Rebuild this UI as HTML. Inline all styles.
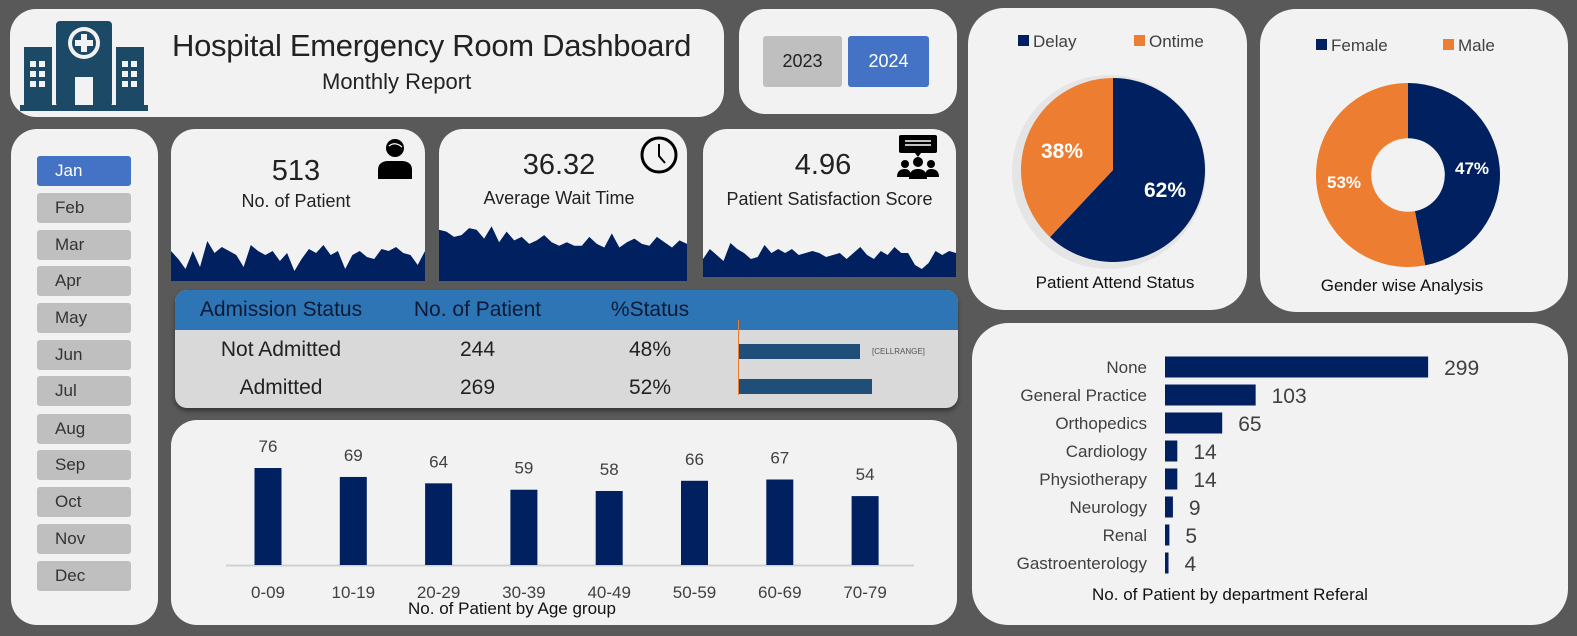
<!DOCTYPE html>
<html><head><meta charset="utf-8">
<style>
*{box-sizing:border-box;margin:0;padding:0}
body{width:1577px;height:636px;background:#595959;position:relative;overflow:hidden;font-family:"Liberation Sans Narrow","Liberation Sans",sans-serif;color:#222}
.panel{position:absolute;background:#f2f2f2;border-radius:26px}
.btn{position:absolute;left:37px;width:94px;height:30px;background:#bfbfbf;border-radius:3px;font-size:17px;line-height:30px;padding-left:18px;color:#333}
.t{position:absolute;white-space:nowrap}
</style></head><body>

<div class="panel" style="left:10px;top:9px;width:714px;height:108px">
  <svg style="position:absolute;left:10px;top:8px" width="128" height="96" viewBox="0 0 128 96">
    <g fill="#1c4966">
      <rect x="4" y="30" width="28" height="60"/><rect x="96" y="30" width="28" height="60"/>
      <rect x="36" y="4" width="56" height="86" rx="4"/><rect x="0" y="88" width="128" height="6"/>
    </g>
    <circle cx="64" cy="26" r="16" fill="#f2f2f2"/><circle cx="64" cy="26" r="12" fill="#1c4966"/>
    <rect x="61" y="17" width="6" height="18" fill="#f2f2f2"/><rect x="55" y="23" width="18" height="6" fill="#f2f2f2"/>
    <g fill="#f2f2f2">
      <rect x="10" y="44" width="6" height="6"/><rect x="19" y="44" width="6" height="6"/><rect x="10" y="54" width="6" height="6"/><rect x="19" y="54" width="6" height="6"/><rect x="10" y="64" width="6" height="6"/><rect x="19" y="64" width="6" height="6"/>
      <rect x="102" y="44" width="6" height="6"/><rect x="111" y="44" width="6" height="6"/><rect x="102" y="54" width="6" height="6"/><rect x="111" y="54" width="6" height="6"/><rect x="102" y="64" width="6" height="6"/><rect x="111" y="64" width="6" height="6"/>
      <rect x="55" y="60" width="18" height="28"/>
    </g>
  </svg>
  <div class="t" style="left:162px;top:19px;font-size:31px;font-family:'Liberation Sans',sans-serif;letter-spacing:-0.3px">Hospital Emergency Room Dashboard</div>
  <div class="t" style="left:312px;top:60px;font-size:22px;font-family:'Liberation Sans',sans-serif">Monthly Report</div>
</div>

<div class="panel" style="left:739px;top:9px;width:218px;height:105px">
  <div class="t" style="left:24px;top:27px;width:79px;height:51px;background:#bfbfbf;border-radius:3px;text-align:center;line-height:51px;font-size:18px">2023</div>
  <div class="t" style="left:109px;top:27px;width:81px;height:51px;background:#4472c4;border-radius:3px;text-align:center;line-height:51px;font-size:18px;color:#fff">2024</div>
</div>

<div class="panel" style="left:11px;top:129px;width:147px;height:496px"></div>
<div class="btn" style="top:156px;background:#4472c4;color:#fff">Jan</div>
<div class="btn" style="top:193px">Feb</div>
<div class="btn" style="top:230px">Mar</div>
<div class="btn" style="top:266px">Apr</div>
<div class="btn" style="top:303px">May</div>
<div class="btn" style="top:340px">Jun</div>
<div class="btn" style="top:376px">Jul</div>
<div class="btn" style="top:414px">Aug</div>
<div class="btn" style="top:450px">Sep</div>
<div class="btn" style="top:487px">Oct</div>
<div class="btn" style="top:524px">Nov</div>
<div class="btn" style="top:561px">Dec</div>

<div class="panel" style="left:171px;top:129px;width:254px;height:152px;overflow:hidden;border-radius:24px 24px 0 0">
  <div class="t" style="left:0;width:250px;text-align:center;top:26px;font-size:29px">513</div>
  <div class="t" style="left:0;width:250px;text-align:center;top:62px;font-size:18px;font-family:'Liberation Sans',sans-serif">No. of Patient</div>
  <svg style="position:absolute;left:204px;top:8px" width="40" height="42"><circle cx="20" cy="11" r="9" fill="#000"/><path d="M14 9 Q20 4 27 10" stroke="#fff" fill="none" stroke-width="1.2"/><path d="M3 42 V33 Q3 25 12 24 H28 Q37 25 37 33 V42Z" fill="#000"/></svg>
  <svg style="position:absolute;left:0;top:92px" width="254" height="60"><polygon id="spark1" fill="#002060"/></svg>
</div>
<div class="panel" style="left:439px;top:129px;width:248px;height:152px;overflow:hidden;border-radius:24px 24px 0 0">
  <div class="t" style="left:0;width:240px;text-align:center;top:20px;font-size:29px">36.32</div>
  <div class="t" style="left:0;width:240px;text-align:center;top:59px;font-size:18px;font-family:'Liberation Sans',sans-serif">Average Wait Time</div>
  <svg style="position:absolute;left:200px;top:6px" width="40" height="40"><circle cx="20" cy="20" r="17" fill="none" stroke="#000" stroke-width="3"/><path d="M20 9 V21 L26 28" stroke="#000" stroke-width="2" fill="none"/></svg>
  <svg style="position:absolute;left:0;top:92px" width="248" height="60"><polygon id="spark2" fill="#002060"/></svg>
</div>
<div class="panel" style="left:703px;top:129px;width:253px;height:148px;overflow:hidden;border-radius:24px 24px 0 0">
  <div class="t" style="left:0;width:240px;text-align:center;top:20px;font-size:29px">4.96</div>
  <div class="t" style="left:0;width:253px;text-align:center;top:60px;font-size:18px;font-family:'Liberation Sans',sans-serif">Patient Satisfaction Score</div>
  <svg style="position:absolute;left:190px;top:4px" width="50" height="50"><rect x="6" y="2" width="38" height="18" rx="2" fill="#000"/><path d="M12 8h26M12 12h26" stroke="#fff" stroke-width="1.5"/><path d="M22 20 l3 4 l3-4z" fill="#000"/><circle cx="12" cy="31" r="4"/><circle cx="25" cy="29" r="5"/><circle cx="38" cy="31" r="4"/><path d="M4 44 Q4 36 12 36 Q18 36 18 44Z M16 46 Q16 36 25 36 Q34 36 34 46Z M32 44 Q32 36 38 36 Q46 36 46 44Z"/></svg>
  <svg style="position:absolute;left:0;top:92px" width="253" height="56"><polygon id="spark3" fill="#002060"/></svg>
</div>

<div style="position:absolute;left:175px;top:290px;width:783px;height:118px;background:#d9d9d9;border-radius:12px;overflow:hidden;box-shadow:0 3px 5px rgba(0,0,0,.4)">
  <div style="position:absolute;left:0;top:0;width:783px;height:40px;background:#2e75b6"></div>
  <div class="t" style="left:0;width:212px;text-align:center;top:8px;font-size:21px;color:#0d1a33">Admission Status</div>
  <div class="t" style="left:200px;width:205px;text-align:center;top:8px;font-size:21px;color:#0d1a33">No. of Patient</div>
  <div class="t" style="left:420px;width:110px;text-align:center;top:8px;font-size:21px;color:#0d1a33">%Status</div>
  <div class="t" style="left:0;width:212px;text-align:center;top:48px;font-size:21px">Not Admitted</div>
  <div class="t" style="left:200px;width:205px;text-align:center;top:48px;font-size:21px">244</div>
  <div class="t" style="left:420px;width:110px;text-align:center;top:48px;font-size:21px">48%</div>
  <div class="t" style="left:0;width:212px;text-align:center;top:86px;font-size:21px">Admitted</div>
  <div class="t" style="left:200px;width:205px;text-align:center;top:86px;font-size:21px">269</div>
  <div class="t" style="left:420px;width:110px;text-align:center;top:86px;font-size:21px">52%</div>
  <div style="position:absolute;left:563px;top:30px;width:1px;height:75px;background:#ed7d31"></div>
  <div style="position:absolute;left:564px;top:54px;width:121px;height:15px;background:#1f4e79"></div>
  <div style="position:absolute;left:564px;top:89px;width:133px;height:15px;background:#1f4e79"></div>
  <div class="t" style="left:697px;top:57px;font-size:8px;color:#555">[CELLRANGE]</div>
</div>

<div class="panel" style="left:171px;top:420px;width:786px;height:205px"></div>
<svg id="age" style="position:absolute;left:0;top:0" width="1577" height="636"></svg>

<div class="panel" style="left:968px;top:8px;width:279px;height:302px;border-radius:36px"></div>
<div class="panel" style="left:1260px;top:9px;width:308px;height:303px;border-radius:36px"></div>
<div class="panel" style="left:972px;top:323px;width:596px;height:302px;border-radius:36px"></div>
<svg id="pies" style="position:absolute;left:0;top:0" width="1577" height="636"></svg>

<script>
const NS='http://www.w3.org/2000/svg';
function mk(parent,tag,attrs,text){const e=document.createElementNS(NS,tag);for(const k in attrs)e.setAttribute(k,attrs[k]);if(text!==undefined)e.textContent=text;parent.appendChild(e);return e;}

const sparkPatients=[30,22,12,30,14,40,28,34,30,26,14,36,30,26,30,20,28,10,22,32,28,36,26,30,12,26,30,24,22,32,30,34,28,26,16,30];
const sparkWait=[58,56,50,52,60,58,48,62,44,56,46,50,42,46,52,44,40,44,40,40,50,42,38,54,38,44,48,42,40,50,44,38,46,42];
const sparkSatis=[18,28,22,16,34,28,24,18,20,32,24,28,24,28,22,24,26,24,20,22,24,18,24,30,22,18,26,22,30,24,24,12,8,14,26,22,26,24];
function spark(id,vals,w,h,max){const el=document.getElementById(id);const n=vals.length;let pts=`0,${h} `;vals.forEach((v,i)=>{pts+=`${(i/(n-1)*w).toFixed(1)},${(h-v/max*h).toFixed(1)} `});pts+=`${w},${h}`;el.setAttribute('points',pts);}
spark('spark1',sparkPatients,254,60,60);
spark('spark2',sparkWait,248,60,68);
spark('spark3',sparkSatis,253,56,56);

const ageGroups=['0-09','10-19','20-29','30-39','40-49','50-59','60-69','70-79'];
const ageValues=[76,69,64,59,58,66,67,54];
const age=document.getElementById('age');
const ageX=i=>268+i*85.3, ageBase=565, ageScale=1.276;
const ay=v=>ageBase-v*ageScale;
let ax=mk(age,'line',{x1:226,x2:914,y1:ageBase+0.5,y2:ageBase+0.5,stroke:'#d0d0d0','stroke-width':2});


ageGroups.forEach((g,i)=>{
  const v=ageValues[i];
  const r=mk(age,'rect',{x:ageX(i)-13.5,y:ay(v),width:27,height:v*ageScale,fill:'#002060'});
  
  
  const l=mk(age,'text',{x:ageX(i),y:ay(v)-16,'text-anchor':'middle','font-size':17,fill:'#404040','font-family':'Liberation Sans Narrow, Liberation Sans, sans-serif'},String(v));
  
  
  const t=mk(age,'text',{x:ageX(i),y:598,'text-anchor':'middle','font-size':17,fill:'#404040','font-family':'Liberation Sans Narrow, Liberation Sans, sans-serif'},g);
  
  
});
const at=mk(age,'text',{x:512,y:614,'text-anchor':'middle','font-size':17,fill:'#111','font-family':'Liberation Sans, sans-serif'},'No. of Patient by Age group');



const attendLabels=['Delay','Ontime'];
const attendValues=[62,38];
const genderLabels=['Female','Male'];
const genderValues=[47,53];
const colors=['#002060','#ed7d31'];
const pies=document.getElementById('pies');
function pie(cx,cy,r0,vals,hole,name,labelPos){
  const tot=vals.reduce((a,b)=>a+b,0);let a0=0;
  vals.forEach((v,i)=>{
    const a1=a0+v/tot*2*Math.PI;
    const p=(a,r)=>[cx+Math.sin(a)*r0*r,cy-Math.cos(a)*r0*r];
    const [x0,y0]=p(a0,1),[x1,y1]=p(a1,1);const big=(a1-a0)>Math.PI?1:0;
    let d=`M${x0},${y0} A${r0},${r0} 0 ${big} 1 ${x1},${y1} `;
    if(hole){const [hx1,hy1]=p(a1,hole),[hx0,hy0]=p(a0,hole);d+=`L${hx1},${hy1} A${r0*hole},${r0*hole} 0 ${big} 0 ${hx0},${hy0} Z`;}
    else d+=`L${cx},${cy} Z`;
    const s=mk(pies,'path',{d:d,fill:colors[i]});
    
    
    const t=mk(pies,'text',{x:labelPos[i][0],y:labelPos[i][1],'text-anchor':'middle','font-size':hole?17:21,'font-weight':'bold',fill:'#fff','font-family':'Liberation Sans, sans-serif'},Math.round(v/tot*100)+'%');
    
    
    a0=a1;
  });
}
const sh=mk(pies,'circle',{cx:1109,cy:172,r:97,fill:'rgba(0,0,0,0.05)'});


pie(1113,170,92,attendValues,0,'attend',[[1165,197],[1062,158]]);
pie(1408,175,92,genderValues,0.40,'gender',[[1472,174],[1344,188]]);
function legend(x,y,labels,gap,name){labels.forEach((l,i)=>{
  const r=mk(pies,'rect',{x:x+i*gap,y:y-12,width:11,height:11,fill:colors[i]});
  
  
  const t=mk(pies,'text',{x:x+i*gap+15,y:y,'font-size':17,fill:'#404040','font-family':'Liberation Sans, sans-serif'},l);
  
  
});}
legend(1018,47,attendLabels,116,'attend');
legend(1316,51,genderLabels,127,'gender');
const pt1=mk(pies,'text',{x:1115,y:288,'text-anchor':'middle','font-size':17,fill:'#111','font-family':'Liberation Sans, sans-serif'},'Patient Attend Status');


const pt2=mk(pies,'text',{x:1402,y:291,'text-anchor':'middle','font-size':17,fill:'#111','font-family':'Liberation Sans, sans-serif'},'Gender wise Analysis');



const depts=['None','General Practice','Orthopedics','Cardiology','Physiotherapy','Neurology','Renal','Gastroenterology'];
const deptValues=[299,103,65,14,14,9,5,4];
const dx0=1165, dscale=0.88, dy=i=>367+i*28;
depts.forEach((d,i)=>{
  const v=deptValues[i];
  const r=mk(pies,'rect',{x:dx0,y:dy(i)-10.5,width:v*dscale,height:21,fill:'#002060'});
  
  
  const l=mk(pies,'text',{x:1147,y:dy(i)+6,'text-anchor':'end','font-size':17,fill:'#404040','font-family':'Liberation Sans, sans-serif'},d);
  
  
  const t=mk(pies,'text',{x:dx0+v*dscale+16,y:dy(i)+8,'font-size':21,fill:'#404040','font-family':'Liberation Sans, sans-serif'},String(v));
  
  
});
const dt=mk(pies,'text',{x:1230,y:600,'text-anchor':'middle','font-size':17,fill:'#111','font-family':'Liberation Sans, sans-serif'},'No. of Patient by department Referal');


</script>
</body></html>
